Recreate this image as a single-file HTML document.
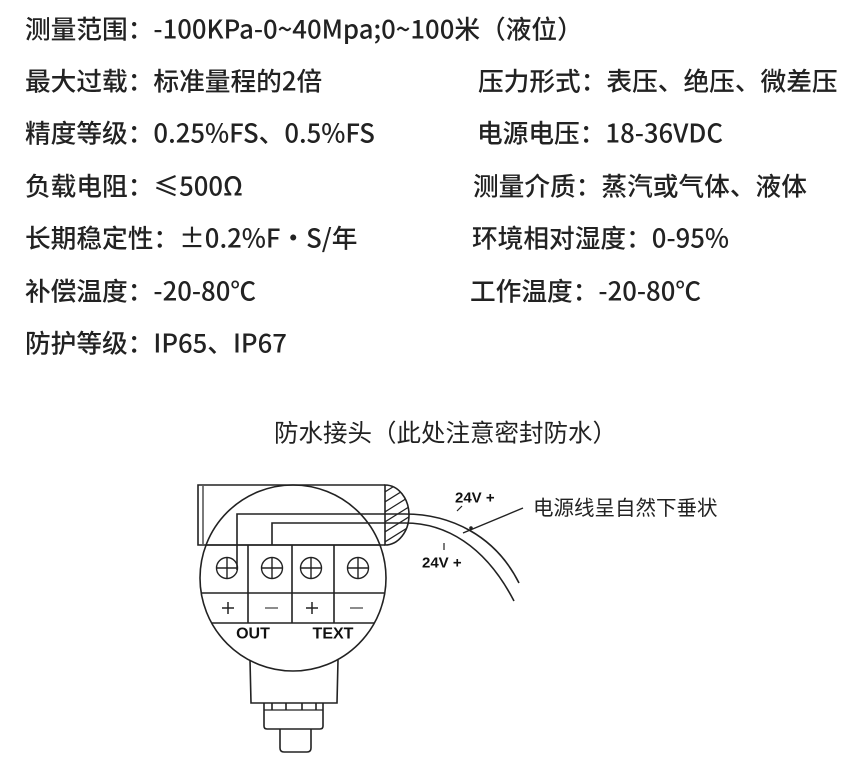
<!DOCTYPE html>
<html><head><meta charset="utf-8"><style>
html,body{margin:0;padding:0;background:#fff;}
svg{display:block;}
.t{font-family:"Noto Sans CJK SC","Liberation Sans",sans-serif;font-size:25.7px;font-weight:500;fill:#222;dominant-baseline:central;}
.b{font-family:"Liberation Sans",sans-serif;font-weight:bold;fill:#111;dominant-baseline:central;}
</style></head><body>
<svg width="865" height="769" viewBox="0 0 865 769" xmlns="http://www.w3.org/2000/svg">
<text class="t" x="25" y="28">测量范围：-100KPa-0~40Mpa;0~100米（液位）</text>
<text class="t" x="25" y="80">最大过载：标准量程的2倍</text>
<text class="t" x="478" y="80">压力形式：表压、绝压、微差压</text>
<text class="t" x="25" y="132">精度等级：0.25%FS、0.5%FS</text>
<text class="t" x="477" y="132">电源电压：18-36VDC</text>
<text class="t" x="25" y="185">负载电阻：≤500Ω</text>
<text class="t" x="473" y="185">测量介质：蒸汽或气体、液体</text>
<text class="t" x="25" y="237">长期稳定性：±0.2%F·S/年</text>
<text class="t" x="472" y="237">环境相对湿度：0-95%</text>
<text class="t" x="25" y="290">补偿温度：-20-80℃</text>
<text class="t" x="470" y="290">工作温度：-20-80℃</text>
<text class="t" x="25" y="342">防护等级：IP65、IP67</text>
<text class="t" x="274" y="432" style="font-size:24.5px;font-weight:400">防水接头（此处注意密封防水）</text>

<g fill="none" stroke="#222" stroke-width="1.6">
<defs><clipPath id="hc"><path d="M385,485 A24,30 0 0 1 385,545 Z"/></clipPath></defs>
<path d="M385,485 H198 V545 H385"/>
<line x1="203" y1="486" x2="203" y2="544" stroke-width="1.2"/>
<path d="M385,485 A24,30 0 0 1 385,545 Z" fill="#fff"/>
<g clip-path="url(#hc)" stroke-width="1.2">
<line x1="380" y1="495" x2="420" y2="470"/><line x1="380" y1="505" x2="420" y2="480"/>
<line x1="380" y1="515" x2="420" y2="490"/><line x1="380" y1="525" x2="420" y2="500"/>
<line x1="380" y1="535" x2="420" y2="510"/><line x1="380" y1="545" x2="420" y2="520"/>
<line x1="380" y1="555" x2="420" y2="530"/>
</g>
<path d="M250,660 L251,703 H337 L338,660"/>
<path d="M264,703 V726 Q264,729 267,729 H320 Q323,729 323,726 V703"/>
<line x1="264" y1="710" x2="323" y2="710" stroke-width="1.2"/>
<line x1="272" y1="703" x2="272" y2="710"/><line x1="286" y1="703" x2="286" y2="710"/>
<line x1="302" y1="703" x2="302" y2="710"/><line x1="316" y1="703" x2="316" y2="710"/>
<path d="M280,729 V748 Q280,752 284,752 H307 Q311,752 311,748 V729"/>
<circle cx="293" cy="578" r="93" fill="none"/>
<line x1="206" y1="545" x2="380" y2="545"/>
<line x1="202" y1="593" x2="384" y2="593"/>
<line x1="212" y1="623" x2="374" y2="623"/>
<line x1="248" y1="545" x2="248" y2="623"/>
<line x1="292" y1="545" x2="292" y2="623"/>
<line x1="334" y1="545" x2="334" y2="623"/>
<g stroke-width="1.4">
<circle cx="227" cy="568" r="10.5"/><line x1="216.5" y1="568" x2="237.5" y2="568"/><line x1="227" y1="557.5" x2="227" y2="578.5"/>
<circle cx="272" cy="568" r="10.5"/><line x1="261.5" y1="568" x2="282.5" y2="568"/><line x1="272" y1="557.5" x2="272" y2="578.5"/>
<circle cx="311" cy="568" r="10.5"/><line x1="300.5" y1="568" x2="321.5" y2="568"/><line x1="311" y1="557.5" x2="311" y2="578.5"/>
<circle cx="358" cy="568" r="10.5"/><line x1="347.5" y1="568" x2="368.5" y2="568"/><line x1="358" y1="557.5" x2="358" y2="578.5"/>
</g>
<g stroke-width="1.5">
<line x1="222" y1="608" x2="234" y2="608"/><line x1="228" y1="602" x2="228" y2="614"/>
<line x1="265" y1="608" x2="278" y2="608" stroke="#666"/>
<line x1="306" y1="608" x2="318" y2="608"/><line x1="312" y1="602" x2="312" y2="614"/>
<line x1="350" y1="608" x2="363" y2="608" stroke="#666"/>
</g>
<path d="M237,570 V514 H405 C450,514 495,535 519,583"/>
<path d="M272,545 V523 H405 C445,523 485,545 514,601"/>
<line x1="463" y1="533" x2="523" y2="508" stroke-width="1.4"/>
<line x1="457" y1="511" x2="462" y2="506" stroke-width="1.2"/>
<line x1="444" y1="543" x2="444" y2="550" stroke-width="1.2"/>
</g>
<circle cx="471" cy="528" r="1.8" fill="#222"/>
<text class="b" x="253" y="634" font-size="16" text-anchor="middle">OUT</text>
<text class="b" x="333" y="634" font-size="16" text-anchor="middle">TEXT</text>
<text class="b" x="455" y="498" font-size="15">24V +</text>
<text class="b" x="422" y="563" font-size="15">24V +</text>
<text class="t" x="533" y="506" style="font-size:20.5px;font-weight:400">电源线呈自然下垂状</text>
</svg>
</body></html>
